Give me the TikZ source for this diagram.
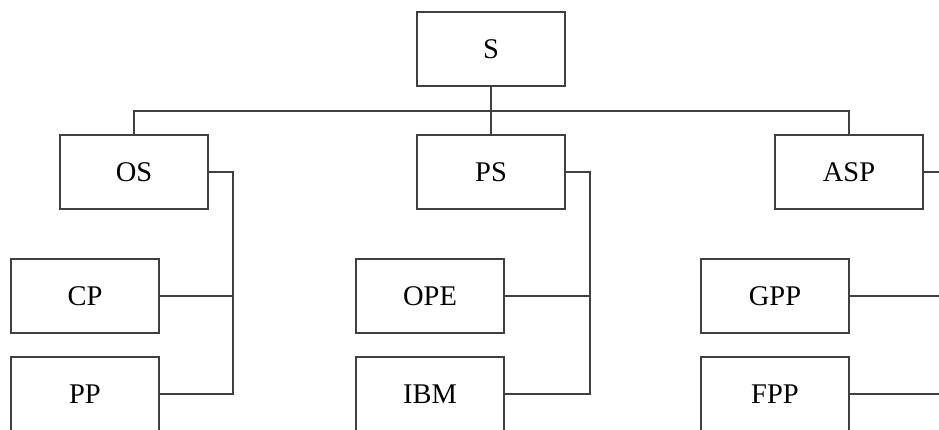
\documentclass[tikz,border=0pt]{standalone}
\usepackage{fontspec}
\setmainfont{Liberation Serif}
\begin{document}
\begin{tikzpicture}[x=1pt,y=-1pt,
  box/.style={draw=black!75, line width=1.2pt, fill=white, minimum width=148pt,
    minimum height=74pt, inner sep=0pt, font=\fontsize{28.5}{30}\selectfont},
  link/.style={draw=black!75, line width=1.2pt}]
\useasboundingbox (0,0) rectangle (939,429);
\clip (0,0) rectangle (939,429);

% top level
\node[box] (S) at (491,49) {S};

% second level
\node[box] (OS)  at (134,172) {OS};
\node[box] (PS)  at (491,172) {PS};
\node[box] (ASP) at (849,172) {ASP};

% third level
\node[box] (CP)  at (85,296) {CP};
\node[box] (PP)  at (85,394) {PP};
\node[box] (OPE) at (430,296) {OPE};
\node[box] (IBM) at (430,394) {IBM};
\node[box] (GPP) at (775,296) {GPP};
\node[box] (FPP) at (775,394) {FPP};

% bus below S
\coordinate (bus) at (491,111);
\draw[link] (S.south) -- (bus);
\draw[link] (OS.north) |- (bus) -| (ASP.north);
\draw[link] (bus) -- (PS.north);

% side rails to the children
\coordinate (osrail)  at (233,172);
\coordinate (psrail)  at (590,172);
\coordinate (asprail) at (949,172);
\draw[link] (OS.east) -- (osrail) |- (PP.east);
\draw[link] (CP.east) -- (CP.east -| osrail);
\draw[link] (PS.east) -- (psrail) |- (IBM.east);
\draw[link] (OPE.east) -- (OPE.east -| psrail);
\draw[link] (ASP.east) -- (asprail) |- (FPP.east);
\draw[link] (GPP.east) -- (GPP.east -| asprail);
\end{tikzpicture}
\end{document}
